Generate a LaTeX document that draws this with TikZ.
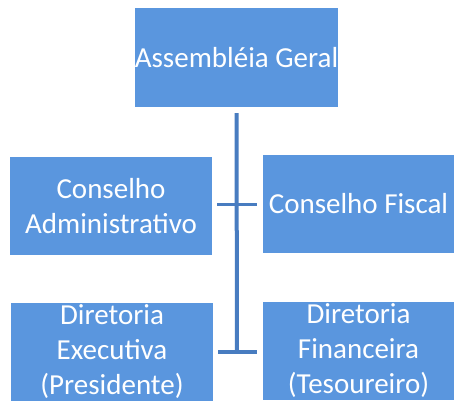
\documentclass[tikz,border=0pt]{standalone}
\usepackage{fontspec}
\setmainfont{Carlito}
\definecolor{boxblue}{RGB}{90,150,222}
\definecolor{lineblue}{RGB}{72,124,192}
\begin{document}
\begin{tikzpicture}[x=1pt,y=-1pt,
  orgbox/.style={rectangle, fill=boxblue, draw=none, inner sep=0pt, text=white,
    align=center, font=\fontsize{29}{35}\selectfont},
  conn/.style={draw=lineblue, line width=4pt}]
\useasboundingbox (0,0) rectangle (457,402);
\clip (0,0) rectangle (457,402);
\node[orgbox, minimum width=203pt, minimum height=99pt] (top) at (236.5,57.5) {Assembléia Geral};
\node[orgbox, minimum width=202pt, minimum height=98pt] (ml) at (111,206) {Conselho\\Administrativo};
\node[orgbox, minimum width=191pt, minimum height=98pt] (mr) at (358.5,204) {Conselho Fiscal};
\node[orgbox, minimum width=202pt, minimum height=98pt] (bl) at (112,352) {Diretoria\\Executiva\\(Presidente)};
\node[orgbox, minimum width=191pt, minimum height=98pt] (br) at (358.5,351) {Diretoria\\Financeira\\(Tesoureiro)};
\coordinate (spinebot) at (237,352);
\draw[conn] ([yshift=-6pt]top.south) -- (spinebot);
\draw[conn, line width=3pt] ([xshift=5pt]ml.east |- 0,204) -- ([xshift=-6pt]mr.west |- 0,204);
\draw[conn] ([xshift=5pt]bl.east |- spinebot) -- ([xshift=-6pt]br.west |- spinebot);
\end{tikzpicture}
\end{document}
